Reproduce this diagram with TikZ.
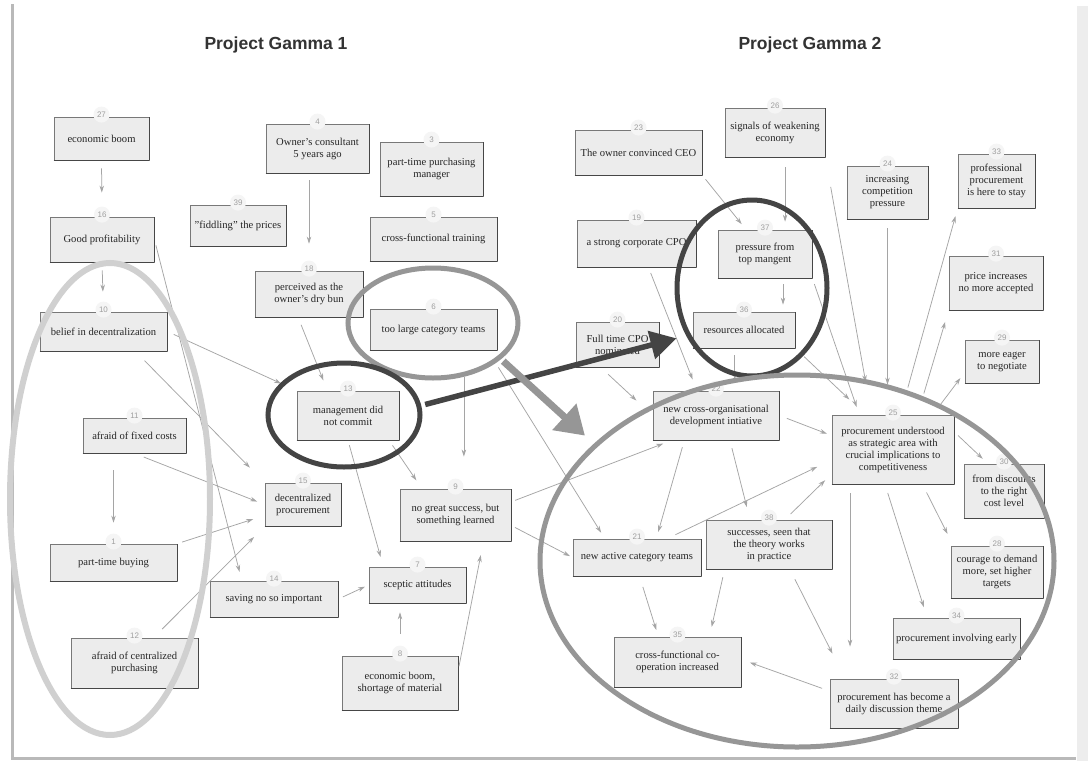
\documentclass[tikz,border=0pt]{standalone}
\usepackage{fontspec}
\setmainfont{Liberation Serif}
\setsansfont{Liberation Sans}
\usetikzlibrary{arrows.meta, positioning, calc, shapes.geometric}

\definecolor{boxfill}{RGB}{236,236,236}
\definecolor{boxline}{RGB}{120,120,120}
\definecolor{boxshade}{RGB}{70,70,70}
\definecolor{linkgray}{RGB}{165,165,165}
\definecolor{ringdark}{RGB}{68,68,68}
\definecolor{ringmid}{RGB}{150,150,150}
\definecolor{ringlight}{RGB}{208,208,208}
\definecolor{textdark}{RGB}{38,38,38}

\tikzset{
  factor/.style={draw=boxline, fill=boxfill, line width=0.8pt, inner sep=2pt, align=center, text=textdark, font=\fontsize{10.6}{12}\selectfont,
    append after command={(\tikzlastnode.south west) edge[draw=boxshade, line width=1.2pt] (\tikzlastnode.south east)
      (\tikzlastnode.south east) edge[draw=boxshade, line width=1.2pt] (\tikzlastnode.north east)}},
  sz/.style 2 args={minimum width=#1pt, minimum height=#2pt},
  num/.style={circle, fill=gray!8, inner sep=0pt, minimum size=16pt, text=gray!75, font=\sffamily\fontsize{8}{9}\selectfont},
  link/.style={draw=linkgray, line width=0.75pt, -{Stealth[length=7pt,width=4.5pt]}},
  ring/.style={ellipse, draw, line width=5pt, inner sep=0pt},
  bigarrow/.style={line width=5.5pt, -{Triangle[length=26pt,width=28pt]}},
  heading/.style={font=\sffamily\bfseries\fontsize{17.5}{20}\selectfont, text=black!80}
}

\begin{document}
\begin{tikzpicture}[x=1pt, y=-1pt]
  \useasboundingbox (0,0) rectangle (1088,761);
  \fill[white] (0,0) rectangle (1088,761);

  % page frame
  \draw[gray!55, line width=3pt] (12,4) -- (12,758) -- (1076,758);
  \fill[gray!14] (1077,6) rectangle (1088,761);

  % headings
  \node[heading] (title1) at (276,45) {Project Gamma 1};
  \node[heading] (title2) at (810,45) {Project Gamma 2};

  % Project Gamma 1
  \node[factor, sz={95}{43}] (c27) at (101.5,138.5) {economic boom};
  \node[factor, sz={104}{45}] (c16) at (102,239.5) {Good profitability};
  \node[factor, sz={103}{49}] (c4) at (317.5,148.5) {Owner's consultant\\5 years ago};
  \node[factor, sz={96}{41}] (c39) at (238,225.5) {"fiddling" the prices};
  \node[factor, sz={103}{54}] (c3) at (431.5,169) {part-time purchasing\\manager};
  \node[factor, sz={127}{44}] (c5) at (433.5,239) {cross-functional training};
  \node[factor, sz={108}{46}] (c18) at (309,294) {perceived as the\\owner's dry bun};
  \node[factor, sz={127}{41}] (c6) at (433.5,329.5) {too large category teams};
  \node[factor, sz={127}{39}] (c10) at (103.5,331.5) {belief in decentralization};
  \node[factor, sz={102}{49}] (c13) at (348,415.5) {management did\\not commit};
  \node[factor, sz={103}{35}] (c11) at (134.5,435.5) {afraid of fixed costs};
  \node[factor, sz={76}{43}] (c15) at (303,504.5) {decentralized\\procurement};
  \node[factor, sz={111}{52}] (c9) at (455.5,515) {no great success, but\\something learned};
  \node[factor, sz={127}{37}] (c1) at (113.5,562.5) {part-time buying};
  \node[factor, sz={128}{36}] (c14) at (274,599) {saving no so important};
  \node[factor, sz={97}{36}] (c7) at (417.5,585) {sceptic attitudes};
  \node[factor, sz={127}{50}] (c12) at (134.5,663) {afraid of centralized\\purchasing};
  \node[factor, sz={116}{54}] (c8) at (400,683) {economic boom,\\shortage of material};

  % Project Gamma 2
  \node[factor, sz={127}{45}] (c23) at (638.5,152.5) {The owner convinced CEO};
  \node[factor, sz={119}{47}] (c19) at (636.5,243.5) {a strong corporate CPO};
  \node[factor, sz={100}{49}] (c26) at (775,132.5) {signals of weakening\\economy};
  \node[factor, sz={81}{53}] (c24) at (887.5,192.5) {increasing\\competition\\pressure};
  \node[factor, sz={77}{54}] (c33) at (996.5,181) {professional\\procurement\\is here to stay};
  \node[factor, sz={94}{48}] (c37) at (765,254) {pressure from\\top mangent};
  \node[factor, sz={102}{36}] (c36) at (744,330) {resources allocated};
  \node[factor, sz={94}{54}] (c31) at (996,283) {price increases\\no more accepted};
  \node[factor, sz={74}{43}] (c29) at (1002,361.5) {more eager\\to negotiate};
  \node[factor, sz={83}{45}] (c20) at (617.5,344.5) {Full time CPO\\nominated};
  \node[factor, sz={126}{49}] (c22) at (716,415.5) {new cross-organisational\\development intiative};
  \node[factor, sz={122}{69}] (c25) at (893,449.5) {procurement understood\\as strategic area with\\crucial implications to\\competitiveness};
  \node[factor, sz={80}{54}] (c30) at (1004,491) {from discounts\\to the right\\cost level};
  \node[factor, sz={92}{52}] (c28) at (997,572) {courage to demand\\more, set higher\\targets};
  \node[factor, sz={127}{41}] (c34) at (956.5,638.5) {procurement involving early};
  \node[factor, sz={128}{49}] (c32) at (894,703.5) {procurement has become a\\daily discussion theme};
  \node[factor, sz={126}{49}] (c38) at (769,544.5) {successes, seen that\\the theory works\\in practice};
  \node[factor, sz={128}{37}] (c21) at (637,557.5) {new active category teams};
  \node[factor, sz={127}{50}] (c35) at (677.5,662) {cross-functional co-\\operation increased};

  % numbers on the boxes
  \foreach \n in {1,3,4,5,6,7,8,9,10,11,12,13,14,15,16,18,19,20,21,22,23,24,25,26,27,28,29,30,31,32,33,34,35,36,37,38,39}
    \node[num] (l\n) at ([yshift=2pt]c\n.north) {\n};

  % links, Project Gamma 1
  \draw[link, shorten <=8pt, shorten >=24pt] (c27.south) -- (c16.north);
  \draw[link, shorten <=8pt, shorten >=20pt] (c16.south) -- (c10.north);
  \draw[link, shorten <=6pt, shorten >=9pt] (c16.east) -- ($(c14.north west)!.25!(c14.north east)$);
  \draw[link, shorten <=7pt, shorten >=17pt] (c10.east) -- (c13.north west);
  \draw[link, shorten <=13pt, shorten >=21pt] ($(c10.south)!.5!(c10.south east)$) -- (c15.north west);
  \draw[link, shorten <=10pt, shorten >=8pt] (c11.south) -- (c15.west);
  \draw[link, shorten <=17pt, shorten >=21pt] (c1.north |- c11.south) -- (c1.north);
  \draw[link, shorten <=5pt, shorten >=12pt] (c1.north east) -- ($(c15.west)!.5!(c15.south west)$);
  \draw[link, shorten <=12pt, shorten >=15pt] ($(c12.north)!.3!(c12.north east)$) -- (c15.south west);
  \draw[link, shorten <=5pt, shorten >=4pt] (c14.east) -- (c7.west);
  \draw[link, shorten <=22pt, shorten >=9pt] (c8.north) -- (c8.north |- c7.south);
  \draw[link, shorten <=3pt, shorten >=14pt] ($(c8.east)!.5!(c8.north east)$) -- ($(c9.south)!.5!(c9.south east)$);
  \draw[link, shorten <=5pt, shorten >=10pt] (c13.south) -- ($(c7.north)!.7!(c7.north west)$);
  \draw[link, shorten <=6pt, shorten >=10pt] ($(c13.south)!.8!(c13.south east)$) -- ($(c9.north west)!.2!(c9.north east)$);
  \draw[link, shorten <=8pt, shorten >=11pt] ($(c18.south)!.2!(c18.south west)$) -- ($(c13.north)!.4!(c13.north west)$);
  \draw[link, shorten <=7pt, shorten >=27pt] (c18.north |- c4.south) -- (c18.north);
  \coordinate (p9) at ($(c9.north)!.15!(c9.north east)$);
  \draw[link, shorten <=27pt, shorten >=32pt] (p9 |- c6.south) -- (p9);
  \draw[link, shorten <=20pt, shorten >=7pt] ($(c6.south)!.85!(c6.south east)$) -- ($(c21.north)!.5!(c21.north west)$);
  \draw[link, shorten <=4pt, shorten >=9pt] ($(c9.east)!.5!(c9.north east)$) -- ($(c22.south west)!.15!(c22.south east)$);
  \draw[link, shorten <=4pt, shorten >=3pt] ($(c9.east)!.4!(c9.south east)$) -- (c21.west);

  % links, Project Gamma 2
  \draw[link, shorten <=10pt, shorten >=22pt] ($(c20.south)!.4!(c20.south west)$) -- (c22.west);
  \draw[link, shorten <=6pt, shorten >=12pt] ($(c19.south)!.2!(c19.south east)$) -- ($(c22.north)!.3!(c22.north west)$);
  \draw[link, shorten <=5pt, shorten >=7pt] (c23.south east) -- ($(c37.north)!.4!(c37.north west)$);
  \coordinate (p26) at ($(c26.south)!.2!(c26.south east)$);
  \draw[link, shorten <=10pt, shorten >=8pt] (p26) -- (p26 |- c37.north);
  \coordinate (p37) at ($(c37.south)!.38!(c37.south east)$);
  \draw[link, shorten <=6pt, shorten >=7pt] (p37) -- (p37 |- c36.north);
  \draw[link, shorten <=6pt, shorten >=8pt] (c37.south east) -- ($(c25.north)!.55!(c25.north west)$);
  \draw[link, shorten <=12pt, shorten >=22pt] (c36.south east) -- ($(c25.north)!.45!(c25.north west)$);
  \coordinate (p36) at ($(c36.south)!.18!(c36.south west)$);
  \draw[link, shorten <=7pt, shorten >=11pt] (p36) -- (p36 |- c22.north);
  \draw[link, shorten <=9pt, shorten >=30pt] (c24.south) -- (c24.south |- c25.north);
  \draw[link, shorten <=30pt, shorten >=33pt] (c26.south east) -- ($(c25.north)!.35!(c25.north west)$);
  \draw[link, shorten <=28pt, shorten >=8pt] ($(c25.north)!.12!(c25.north east)$) -- (c33.south west);
  \draw[link, shorten <=22pt, shorten >=12pt] ($(c25.north)!.4!(c25.north east)$) -- (c31.south west);
  \draw[link, shorten <=13pt, shorten >=7pt] ($(c25.north)!.65!(c25.north east)$) -- ($(c29.south west)!.5!(c29.west)$);
  \draw[link, shorten <=5pt, shorten >=7pt] ($(c25.east)!.5!(c25.north east)$) -- ($(c30.north west)!.3!(c30.north east)$);
  \draw[link, shorten <=8pt, shorten >=5pt] (c22.east) -- ($(c25.west)!.4!(c25.north west)$);
  \draw[link, shorten <=9pt, shorten >=16pt] ($(c21.north)!.47!(c21.north east)$) -- ($(c25.west)!.3!(c25.south west)$);
  \draw[link, shorten <=8pt, shorten >=9pt] ($(c38.north)!.25!(c38.north east)$) -- ($(c25.south west)!.3!(c25.west)$);
  \draw[link, shorten <=7pt, shorten >=7pt] ($(c22.south)!.5!(c22.south west)$) -- ($(c21.north)!.3!(c21.north east)$);
  \draw[link, shorten <=8pt, shorten >=13pt] ($(c22.south)!.22!(c22.south east)$) -- ($(c38.north)!.3!(c38.north west)$);
  \coordinate (p25) at ($(c25.south)!.7!(c25.south west)$);
  \draw[link, shorten <=9pt, shorten >=32pt] (p25) -- (p25 |- c32.north);
  \draw[link, shorten <=9pt, shorten >=11pt] ($(c25.south)!.13!(c25.south west)$) -- ($(c34.north west)!.27!(c34.north east)$);
  \draw[link, shorten <=9pt, shorten >=13pt] ($(c25.south)!.48!(c25.south east)$) -- ($(c28.north west)!.03!(c28.north east)$);
  \draw[link, shorten <=11pt, shorten >=28pt] ($(c38.south)!.33!(c38.south east)$) -- ($(c32.north west)!.12!(c32.north east)$);
  \draw[link, shorten <=8pt, shorten >=10pt] ($(c38.south west)!.15!(c38.south east)$) -- ($(c35.north)!.5!(c35.north east)$);
  \draw[link, shorten <=11pt, shorten >=7pt] ($(c21.south)!.04!(c21.south east)$) -- ($(c35.north)!.3!(c35.north west)$);
  \draw[link, shorten <=8pt, shorten >=9pt] ($(c32.west)!.5!(c32.north west)$) -- ($(c35.east)!.1!(c35.north east)$);

  % rings
  \node[ring, draw=ringlight, line width=6pt, minimum width=200pt, minimum height=472pt] (eLeft) at (110,499) {};
  \node[ring, draw=ringmid, minimum width=170pt, minimum height=110pt] (e6) at (433,323) {};
  \node[ring, draw=ringdark, minimum width=152pt, minimum height=104pt] (e13) at (344,415) {};
  \node[ring, draw=ringdark, minimum width=150pt, minimum height=176pt] (eTop) at (752,288) {};
  \node[ring, draw=ringmid, minimum width=514pt, minimum height=372pt] (eRight) at (797,561) {};

  % big arrows
  \draw[bigarrow, ringdark, shorten <=4pt, shorten >=10pt] (e13.7) -- (eTop.216);
  \draw[bigarrow, ringmid, line width=7pt, -{Triangle[length=28pt,width=34pt]}, shorten <=3pt, shorten >=12pt] (e6.-28) -- (eRight.150);
\end{tikzpicture}
\end{document}
